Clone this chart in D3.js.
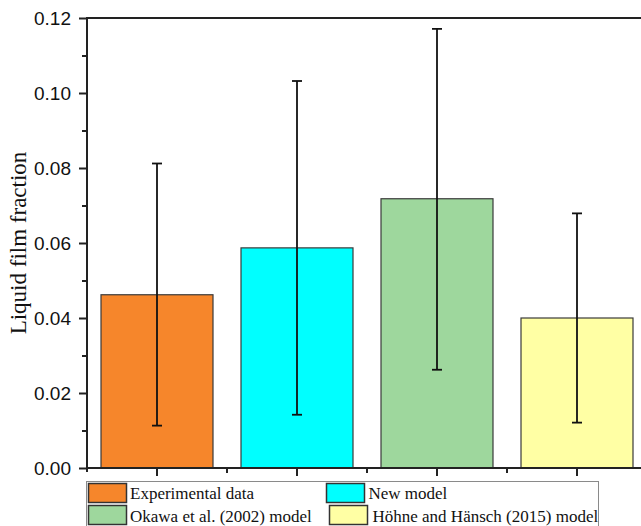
<!DOCTYPE html>
<html>
<head>
<meta charset="utf-8">
<script src="https://cdn.jsdelivr.net/npm/d3@7"></script>
<style>
  html, body { margin: 0; padding: 0; background: #fff; }
  svg { display: block; }
</style>
</head>
<body>
<svg id="chart" width="641" height="526"></svg>
<script>
// Liquid film fraction: measured value and three model predictions, with error ranges
const categories = ["Experimental data", "New model", "Okawa et al. (2002) model", "Höhne and Hänsch (2015) model"];
const values = [0.0462, 0.0587, 0.0718, 0.0400];
const errLow = [0.0113, 0.0142, 0.0262, 0.0121];
const errHigh = [0.0812, 0.1032, 0.1171, 0.0679];
const barColors = ["#F6862B", "#00FFFF", "#9ED79D", "#FFFFA4"];
const yTicks = [0.00, 0.02, 0.04, 0.06, 0.08, 0.10, 0.12];
const yMinorTicks = [0.01, 0.03, 0.05, 0.07, 0.09, 0.11];
const yTitle = "Liquid film fraction";

const svg = d3.select("#chart");
const plotLeft = 87, plotTop = 18, plotBottom = 468, plotRight = 647;

const x = d3.scaleBand().domain(categories).range([plotLeft, plotRight])
  .paddingInner(0.2).paddingOuter(0.1);
const y = d3.scaleLinear().domain([0, 0.12]).range([plotBottom, plotTop]);

const data = categories.map((c, i) => ({ c, v: values[i], lo: errLow[i], hi: errHigh[i], color: barColors[i] }));

// bars
svg.append("g").selectAll("rect").data(data).join("rect")
  .attr("x", d => x(d.c))
  .attr("y", d => y(d.v))
  .attr("width", x.bandwidth())
  .attr("height", d => y(0) - y(d.v))
  .attr("fill", d => d.color)
  .attr("stroke", "#3a3a3a")
  .attr("stroke-width", 1.2);

// error bars
const eb = svg.append("g").attr("stroke", "#111").attr("stroke-width", 1.8);
data.forEach(d => {
  const cx = x(d.c) + x.bandwidth() / 2;
  eb.append("line").attr("x1", cx).attr("x2", cx).attr("y1", y(d.hi)).attr("y2", y(d.lo));
  eb.append("line").attr("x1", cx - 5).attr("x2", cx + 5).attr("y1", y(d.hi)).attr("y2", y(d.hi));
  eb.append("line").attr("x1", cx - 5).attr("x2", cx + 5).attr("y1", y(d.lo)).attr("y2", y(d.lo));
});

// left axis with major and minor ticks
const yAxis = svg.append("g").attr("transform", `translate(${plotLeft},0)`)
  .call(d3.axisLeft(y).tickValues(yTicks).tickFormat(d3.format(".2f")).tickSize(8).tickPadding(8));
yAxis.select(".domain").remove();
yAxis.selectAll(".tick line").attr("stroke", "#222").attr("stroke-width", 2);
yAxis.selectAll(".tick text")
  .attr("font-family", "Liberation Sans, Arial, sans-serif")
  .attr("font-size", 19).attr("fill", "#111");
svg.append("g").attr("transform", `translate(${plotLeft},0)`)
  .call(d3.axisLeft(y).tickValues(yMinorTicks).tickFormat("").tickSize(5))
  .call(g => g.select(".domain").remove())
  .selectAll(".tick line").attr("stroke", "#222").attr("stroke-width", 2);

// bottom axis: major ticks at bar centres, minor ticks between bars
const xAxis = svg.append("g").attr("transform", `translate(0,${plotBottom})`)
  .call(d3.axisBottom(x).tickSize(8).tickFormat(""));
xAxis.select(".domain").remove();
xAxis.selectAll(".tick line").attr("stroke", "#222").attr("stroke-width", 2);
const minorX = categories.slice(1).map(c => x(c) - x.step() * x.paddingInner() / 2);
svg.append("g").selectAll("line").data(minorX).join("line")
  .attr("x1", d => d).attr("x2", d => d)
  .attr("y1", plotBottom).attr("y2", plotBottom + 5)
  .attr("stroke", "#222").attr("stroke-width", 2);

// frame lines
const frame = svg.append("g").attr("stroke", "#222").attr("stroke-width", 2).attr("fill", "none");
frame.append("line").attr("x1", plotLeft).attr("x2", plotRight).attr("y1", plotBottom).attr("y2", plotBottom);
frame.append("line").attr("x1", plotLeft).attr("x2", plotRight).attr("y1", plotTop).attr("y2", plotTop);
frame.append("line").attr("x1", plotLeft).attr("x2", plotLeft).attr("y1", plotTop - 1).attr("y2", plotBottom + 4);

// y-axis title
svg.append("text")
  .attr("transform", `translate(26,${(plotTop + plotBottom) / 2}) rotate(-90)`)
  .attr("text-anchor", "middle")
  .attr("font-family", "Liberation Serif, Times New Roman, serif")
  .attr("font-size", 23).attr("fill", "#111")
  .text(yTitle);

// legend
const lg = svg.append("g");
lg.append("rect").attr("x", 86.5).attr("y", 481.5).attr("width", 512).attr("height", 50)
  .attr("fill", "#fff").attr("stroke", "#8a8a8a").attr("stroke-width", 1);
const legendPos = [
  { sx: 88.5, sy: 483.5, tx: 130, ty: 499 },
  { sx: 326.5, sy: 483.5, tx: 368.5, ty: 499 },
  { sx: 88.5, sy: 505.5, tx: 130, ty: 522 },
  { sx: 329.5, sy: 505.5, tx: 372.5, ty: 522 }
];
data.forEach((d, i) => {
  const p = legendPos[i];
  lg.append("rect").attr("x", p.sx).attr("y", p.sy).attr("width", 38).attr("height", 19)
    .attr("fill", d.color).attr("stroke", "#333").attr("stroke-width", 1.5);
  lg.append("text").attr("x", p.tx).attr("y", p.ty)
    .attr("font-family", "Liberation Serif, Times New Roman, serif")
    .attr("font-size", 17).attr("fill", "#111")
    .text(d.c);
});
</script>
</body>
</html>
